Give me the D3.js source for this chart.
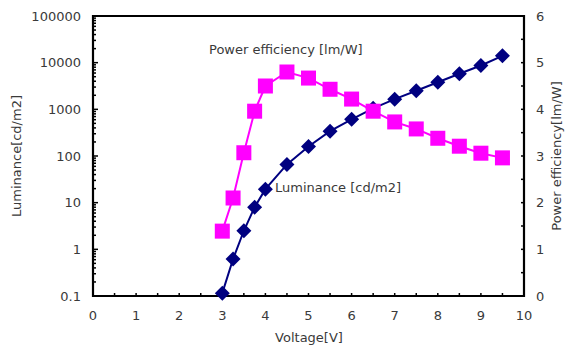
<!DOCTYPE html>
<html><head><meta charset="utf-8">
<script src="https://cdn.jsdelivr.net/npm/d3@7"></script>
<style>body{margin:0;background:#fff}text{font-family:"DejaVu Sans",sans-serif;fill:#3a3a3a}</style>
</head><body><svg id="c" width="570" height="346"></svg>
<script>
const voltage = [3, 3.25, 3.5, 3.75, 4, 4.5, 5, 5.5, 6, 6.5, 7, 7.5, 8, 8.5, 9, 9.5];
const luminance = [0.115, 0.62, 2.5, 8, 19.5, 66, 160, 340, 610, 1050, 1650, 2500, 3800, 5800, 8700, 14000];
const powerEff = [1.39, 2.1, 3.07, 3.96, 4.5, 4.8, 4.67, 4.43, 4.22, 3.96, 3.73, 3.58, 3.38, 3.21, 3.06, 2.96];
const xTicks = [0,1,2,3,4,5,6,7,8,9,10];
const yLeftTicks = [0.1, 1, 10, 100, 1000, 10000, 100000];
const yRightTicks = [0,1,2,3,4,5,6];

const svg = d3.select("#c");
const L=93, R=524, T=16, B=296;
const x = d3.scaleLinear().domain([0,10]).range([L,R]);
const yL = d3.scaleLog().domain([0.1,100000]).range([B,T]);
const yR = d3.scaleLinear().domain([0,6]).range([B,T]);
const fs = 13;

// minor ticks left
const minorL = [];
for (let e=-1; e<5; e++) for (let m=1; m<10; m++) minorL.push(m*Math.pow(10,e));
minorL.push(100000);
svg.append("g").selectAll("line").data(minorL).join("line")
  .attr("x1",L).attr("x2",d=>L+(Math.abs(Math.log10(d)-Math.round(Math.log10(d)))<1e-9?5:3))
  .attr("y1",d=>yL(d)).attr("y2",d=>yL(d)).attr("stroke","#000").attr("stroke-width",1.5);
// bottom ticks
svg.append("g").selectAll("line").data(d3.range(0,10.01,0.5)).join("line")
  .attr("x1",d=>x(d)).attr("x2",d=>x(d)).attr("y1",B).attr("y2",B-3).attr("stroke","#000").attr("stroke-width",1.5);
// right ticks
svg.append("g").selectAll("line").data(d3.range(0,6.01,0.5)).join("line")
  .attr("x1",R).attr("x2",R-3).attr("y1",d=>yR(d)).attr("y2",d=>yR(d)).attr("stroke","#000").attr("stroke-width",1.5);

// frame
svg.append("path").attr("d",`M${L},${T}H${R}V${B}H${L}Z`).attr("fill","none").attr("stroke","#000").attr("stroke-width",2.2);

// tick labels
svg.append("g").selectAll("text").data(yLeftTicks).join("text")
  .attr("x",L-12).attr("y",d=>yL(d)+4.5).attr("text-anchor","end").attr("font-size",fs).text(d=>String(d));
svg.append("g").selectAll("text").data(xTicks).join("text")
  .attr("x",d=>x(d)).attr("y",B+24).attr("text-anchor","middle").attr("font-size",fs).text(d=>d);
svg.append("g").selectAll("text").data(yRightTicks).join("text")
  .attr("x",R+12).attr("y",d=>yR(d)+4.5).attr("text-anchor","start").attr("font-size",fs).text(d=>d);

// axis titles
svg.append("text").attr("transform",`translate(21,${(T+B)/2}) rotate(-90)`).attr("text-anchor","middle").attr("font-size",fs).text("Luminance[cd/m2]");
svg.append("text").attr("transform",`translate(561,${(T+B)/2}) rotate(-90)`).attr("text-anchor","middle").attr("font-size",fs).text("Power efficiency[lm/W]");
svg.append("text").attr("x",309).attr("y",342).attr("text-anchor","middle").attr("font-size",fs).text("Voltage[V]");

// luminance series
const lLine = d3.line().x((d,i)=>x(voltage[i])).y(d=>yL(d));
svg.append("path").attr("d",lLine(luminance)).attr("fill","none").attr("stroke","#000080").attr("stroke-width",2);
svg.append("g").selectAll("path.m").data(luminance).join("path")
  .attr("d",(d,i)=>{const cx=x(voltage[i]), cy=yL(d), r=7.5; return `M${cx},${cy-r}L${cx+r},${cy}L${cx},${cy+r}L${cx-r},${cy}Z`;})
  .attr("fill","#000080");

// power efficiency series (drawn on top)
const pLine = d3.line().x((d,i)=>x(voltage[i])).y(d=>yR(d));
svg.append("path").attr("d",pLine(powerEff)).attr("fill","none").attr("stroke","#ff00ff").attr("stroke-width",2);
svg.append("g").selectAll("rect").data(powerEff).join("rect")
  .attr("x",(d,i)=>x(voltage[i])-7.5).attr("y",d=>yR(d)-7.5).attr("width",15).attr("height",15).attr("fill","#ff00ff");

// annotations
svg.append("text").attr("x",209).attr("y",54).attr("font-size",fs).text("Power efficiency [lm/W]");
svg.append("text").attr("x",275).attr("y",192).attr("font-size",fs).text("Luminance [cd/m2]");
</script></body></html>
